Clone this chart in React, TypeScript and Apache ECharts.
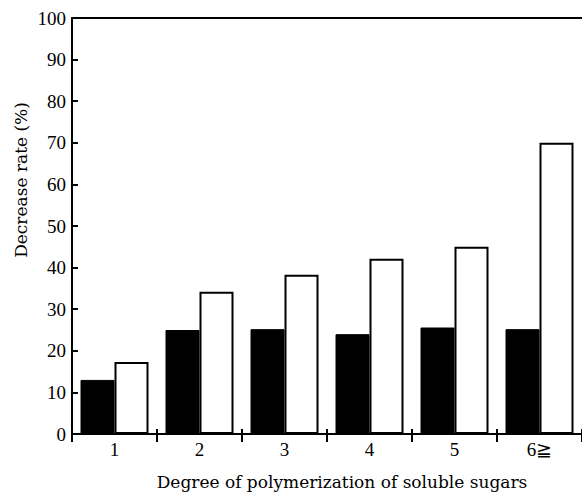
import React, { useEffect, useRef } from "react";
import * as echarts from "echarts";

const categories = ["1", "2", "3", "4", "5", "6≧"];
const blackValues = [13.0, 25.0, 25.2, 24.0, 25.6, 25.2];
const whiteValues = [17.3, 34.2, 38.3, 42.1, 45.0, 70.0];
const yTicks = { min: 0, max: 100, interval: 10 };
const xTitle = "Degree of polymerization of soluble sugars";
const yTitle = "Decrease rate (%)";

const FONT = "'Liberation Serif', 'DejaVu Serif', serif";
const TITLE_FONT = "'DejaVu Serif', serif";

export default function App() {
  const ref = useRef<HTMLDivElement>(null);
  useEffect(() => {
    if (!ref.current) return;
    const chart = echarts.init(ref.current, null, { renderer: "svg" });
    const axisLine = { show: true, lineStyle: { color: "#000", width: 2 } };
    chart.setOption({
      animation: false,
      backgroundColor: "#fff",
      grid: { left: 72, right: -3, top: 18, bottom: 58, containLabel: false },
      xAxis: [
        {
          type: "category",
          data: categories,
          position: "bottom",
          axisLine,
          axisTick: { show: true, inside: false, length: 8, lineStyle: { color: "#000", width: 2 } },
          axisLabel: { color: "#000", fontFamily: FONT, fontSize: 19, margin: 6 },
          splitLine: { show: false },
        },
        {
          type: "category",
          data: categories,
          position: "bottom",
          axisLine: { show: false },
          axisTick: { show: true, inside: true, length: 5, lineStyle: { color: "#000", width: 2 } },
          axisLabel: { show: false },
          splitLine: { show: false },
        },
        {
          type: "category",
          data: categories,
          position: "top",
          axisLine,
          axisTick: { show: false },
          axisLabel: { show: false },
          splitLine: { show: false },
        },
      ],
      yAxis: {
        type: "value",
        min: yTicks.min,
        max: yTicks.max,
        interval: yTicks.interval,
        axisLine,
        axisTick: { show: true, inside: true, length: 6, lineStyle: { color: "#000", width: 2 } },
        axisLabel: { color: "#000", fontFamily: FONT, fontSize: 19, margin: 6 },
        splitLine: { show: false },
      },
      series: [
        {
          type: "bar",
          data: blackValues,
          barWidth: 34,
          barGap: "0%",
          itemStyle: { color: "#000", borderColor: "#000", borderWidth: 1 },
        },
        {
          type: "bar",
          data: whiteValues,
          barWidth: 34,
          barGap: "0%",
          itemStyle: { color: "#fff", borderColor: "#000", borderWidth: 2 },
        },
      ],
      graphic: [
        {
          type: "text",
          x: 342,
          y: 482,
          style: {
            text: xTitle,
            fill: "#000",
            font: `17px ${TITLE_FONT}`,
            textAlign: "center",
            textVerticalAlign: "middle",
          },
        },
        {
          type: "text",
          x: 21,
          y: 180,
          rotation: Math.PI / 2,
          style: {
            text: yTitle,
            fill: "#000",
            font: `17px ${TITLE_FONT}`,
            textAlign: "center",
            textVerticalAlign: "middle",
          },
        },
      ],
    });
    return () => chart.dispose();
  }, []);
  return <div ref={ref} style={{ width: 582, height: 492, position: "absolute", left: 0, top: 0 }} />;
}
